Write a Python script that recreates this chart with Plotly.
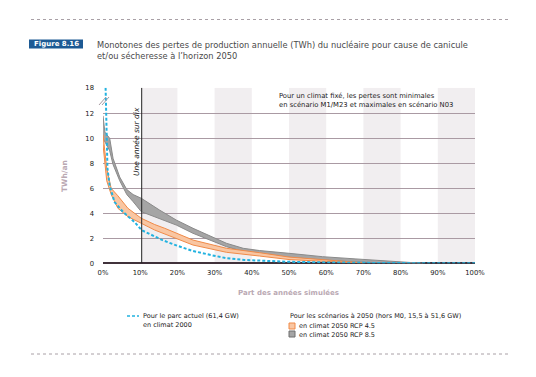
import plotly.graph_objects as go

W, H = 536, 377
OFF = 8  # the page body adds an 8px margin; layout positions compensate for it

# ---- data ----
x_ticks = [0, 10, 20, 30, 40, 50, 60, 70, 80, 90, 100]
y_ticks = [0, 2, 4, 6, 8, 10, 12, 18]

pct_blue = [0.7, 0.8, 1.0, 1.2, 1.8, 3.1, 5.4, 8.5, 10.4, 13, 16, 20, 24, 29, 33, 38, 42, 50, 58, 65, 75, 100]
loss_blue = [18, 12.5, 9.5, 7.6, 6.2, 4.9, 4.1, 3.3, 2.65, 2.25, 1.85, 1.4, 1.0, 0.66, 0.42, 0.27, 0.2, 0.12, 0.08, 0.04, 0.02, 0.0]

pct_rcp45 = [0, 1.0, 2.2, 4.0, 6.7, 10.3, 13.9, 16.6, 24.2, 33.2, 42.1, 50, 60, 70]
rcp45_high = [10.3, 7.6, 6.0, 5.4, 4.4, 3.6, 3.1, 2.8, 1.86, 1.2, 0.85, 0.5, 0.27, 0.08]
rcp45_low = [9.5, 6.6, 5.5, 4.4, 3.73, 3.2, 2.66, 2.35, 1.46, 0.88, 0.58, 0.3, 0.15, 0.03]

pct_rcp85 = [0, 0.5, 1.8, 2.7, 4.5, 6.4, 8.1, 10.3, 15.2, 19.7, 24.2, 28.7, 33.2, 37.7, 42.1, 50, 59, 68, 76, 82, 86]
rcp85_high = [11.8, 10.5, 10.0, 8.4, 6.9, 5.9, 5.5, 5.2, 4.26, 3.46, 2.8, 2.2, 1.6, 1.2, 1.02, 0.8, 0.53, 0.35, 0.22, 0.1, 0.03]
rcp85_low = [10.0, 9.7, 9.0, 7.9, 6.6, 5.5, 4.93, 4.13, 3.6, 3.06, 2.4, 1.86, 1.33, 0.95, 0.78, 0.48, 0.27, 0.1, 0.03, 0.0, 0.0]

one_in_ten = 10.4
bands = [(10.4, 20), (30, 40), (50, 60), (70, 80), (90, 100)]

# broken y axis: values above 12 are compressed (12 -> 18 spans 2.05 units)
def ybrk(v):
    return v if v <= 12 else 12 + (v - 12) * 2.05 / 6

def px(x):
    return (x - OFF) / W

def py(y):
    return 1 - (y - OFF) / H

FONT = "DejaVu Sans"
GRID = "#aa9aa3"

fig = go.Figure()

fig.add_trace(go.Scatter(
    x=pct_rcp85 + pct_rcp85[::-1],
    y=[ybrk(v) for v in rcp85_high] + [ybrk(v) for v in rcp85_low[::-1]],
    fill="toself", fillcolor="#a5a5a5",
    line=dict(color="#8a8a8a", width=1), mode="lines", hoverinfo="skip", showlegend=False))

fig.add_trace(go.Scatter(
    x=pct_rcp45 + pct_rcp45[::-1],
    y=[ybrk(v) for v in rcp45_high] + [ybrk(v) for v in rcp45_low[::-1]],
    fill="toself", fillcolor="#f9c6a2",
    line=dict(color="#f08a48", width=1), mode="lines", hoverinfo="skip", showlegend=False))

fig.add_trace(go.Scatter(
    x=pct_blue, y=[ybrk(v) for v in loss_blue], mode="lines",
    line=dict(color="#22b2e0", width=2, dash="3px,2px"), showlegend=False))

shapes = []
for a, b in bands:
    shapes.append(dict(type="rect", xref="x", yref="y", x0=a, x1=b, y0=0, y1=ybrk(18),
                       fillcolor="#f1eef0", line=dict(width=0), layer="below"))
shapes.append(dict(type="line", xref="x", yref="y", x0=one_in_ten, x1=one_in_ten, y0=0, y1=ybrk(18),
                   line=dict(color="#222222", width=1), layer="above"))
for dx in (0, 3):
    shapes.append(dict(type="line", xref="paper", yref="paper",
                       x0=px(99 + dx), y0=py(105), x1=px(106 + dx), y1=py(97),
                       line=dict(color="#a89aa2", width=1)))
for yy in (19.5, 354):
    shapes.append(dict(type="line", xref="paper", yref="paper", x0=px(31), x1=px(510),
                       y0=py(yy), y1=py(yy), line=dict(color="#a9a0a6", width=1, dash="dot")))
shapes.append(dict(type="rect", xref="paper", yref="paper", x0=px(29), x1=px(83), y0=py(48.5), y1=py(39.5),
                   fillcolor="#1d5a94", line=dict(width=0)))
shapes.append(dict(type="line", xref="paper", yref="paper", x0=px(127), x1=px(139), y0=py(316), y1=py(316),
                   line=dict(color="#22b2e0", width=1.5, dash="3px,2px")))
shapes.append(dict(type="rect", xref="paper", yref="paper", x0=px(289), x1=px(295), y0=py(329), y1=py(323),
                   fillcolor="#f9c6a2", line=dict(color="#f08a48", width=1)))
shapes.append(dict(type="rect", xref="paper", yref="paper", x0=px(289), x1=px(295), y0=py(337), y1=py(331),
                   fillcolor="#a5a5a5", line=dict(color="#6f6f6f", width=1)))

ann = []
def txt(x, y, s, size=7, color="#222222", xanchor="left", yanchor="middle", **kw):
    ann.append(dict(x=px(x), y=py(y), xref="paper", yref="paper", text=s, showarrow=False,
                    xanchor=xanchor, yanchor=yanchor, align="left",
                    font=dict(family=FONT, size=size, color=color), **kw))

txt(56, 44, "<b>Figure 8.16</b>", size=7, color="white", xanchor="center")
txt(95, 44.5, "Monotones des pertes de production annuelle (TWh) du nucléaire pour cause de canicule", size=8.3, color="#4a4a4a")
txt(95, 56.5, "et/ou sécheresse à l’horizon 2050", size=8.3, color="#4a4a4a")
txt(277, 96.5, "Pour un climat fixé, les pertes sont minimales", size=6.8)
txt(277, 105, "en scénario M1/M23 et maximales en scénario N03", size=6.8)
txt(136, 142, "<i>Une année sur dix</i>", size=7.5, xanchor="center", textangle=-90)
txt(64, 176, "<b>TWh/an</b>", size=7.5, color="#baa9b3", xanchor="center", textangle=-90)
txt(288, 293, "<b>Part des années simulées</b>", size=7, color="#baa9b3", xanchor="center")
txt(141, 316, "Pour le parc actuel (61,4 GW)", size=6.5)
txt(141, 324.5, "en climat 2000", size=6.5)
txt(288, 316, "Pour les scénarios à 2050 (hors M0, 15,5 à 51,6 GW)", size=6.5)
txt(297, 326, "en climat 2050 RCP 4.5", size=6.5)
txt(297, 334.5, "en climat 2050 RCP 8.5", size=6.5)

fig.update_layout(
    width=W, height=H, margin=dict(l=0, r=0, t=0, b=0, pad=0, autoexpand=False),
    paper_bgcolor="white", plot_bgcolor="white",
    shapes=shapes, annotations=ann, showlegend=False,
    xaxis=dict(domain=[px(103), px(475)], range=[0, 100], tickvals=x_ticks,
               ticktext=[f"{v}%" for v in x_ticks], showgrid=False, zeroline=False,
               showline=False, ticks="", ticklabelstandoff=4, automargin=False,
               tickfont=dict(family=FONT, size=6.8, color="#222222")),
    yaxis=dict(domain=[py(263.3), py(87.7)], range=[0, ybrk(18)],
               tickvals=[ybrk(v) for v in y_ticks], ticktext=[str(v) for v in y_ticks],
               showgrid=True, gridcolor=GRID, gridwidth=1, automargin=False,
               zeroline=True, zerolinecolor="#41323b", zerolinewidth=1.5,
               showline=False, ticks="", ticklabelstandoff=8,
               tickfont=dict(family=FONT, size=6.8, color="#222222")),
)

fig.write_html("out.html")
